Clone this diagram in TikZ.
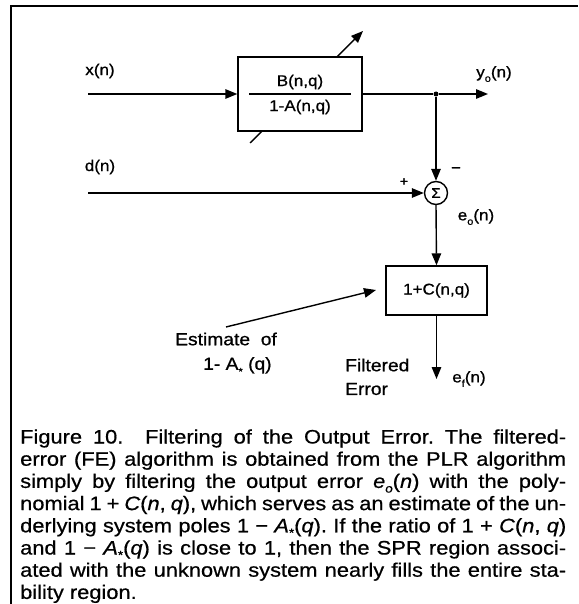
\documentclass[tikz,border=0pt]{standalone}
\usepackage{fontspec}
\setmainfont{Liberation Sans}
\newfontfamily\lblfam{Liberation Sans}[FakeStretch=1.1,FakeBold=0.8]
\newfontfamily\capfam{Liberation Sans}[FakeStretch=1.12,FakeBold=0.6]
\usetikzlibrary{arrows.meta,calc}
\newcommand\lsub[1]{\raisebox{-0.55ex}{\fontsize{10}{10}\selectfont #1}}
\newcommand\csub[1]{\raisebox{-0.45ex}{\fontsize{12}{12}\selectfont #1}}
\newlength\capw
\setlength\capw{546pt}
\frenchspacing
\begin{document}
\begin{tikzpicture}[x=1pt,y=-1pt,
  conn/.style={line width=1.4pt,-{Triangle[length=12pt,width=9.5pt]}},
  plain/.style={line width=1.4pt},
  blk/.style={draw,line width=1.4pt,fill=white,inner sep=0pt},
  lbl/.style={font=\lblfam\fontsize{15.5}{17}\selectfont,inner sep=0pt},
  lblbig/.style={font=\lblfam\fontsize{17.5}{19}\selectfont,inner sep=0pt,anchor=west},
  capline/.style={font=\capfam\fontsize{19.5}{22}\selectfont,anchor=base west,inner sep=0pt}
]
\useasboundingbox (0,0) rectangle (578,604);
\draw[line width=1.8pt] (11,604) -- (11,6) -- (578,6);

% adaptive filter with adjustment arrow
\coordinate (adL) at (250,143);
\coordinate (adH) at (363,31);
\draw[conn] (adL) -- (adH);
\node[blk,minimum width=124pt,minimum height=74pt] (filt) at (300,94) {};
\draw[plain] ($(filt.west)+(12,0)$) -- ($(filt.east)+(-12,0)$);
\node[lbl] (num) at (300,82) {B(n,q)};
\node[lbl] (den) at (300,107) {1-A(n,q)};

% input x(n)
\coordinate (xin) at (88,94);
\draw[conn] (xin) -- (filt.west);
\node[lbl] (xlab) at (100,71) {x(n)};

% output y_o(n)
\node[fill,circle,inner sep=0pt,minimum size=5pt] (dot) at (436,94) {};
\coordinate (yout) at (488,94);
\draw[plain] (filt.east) -- (dot);
\draw[conn] (dot) -- (yout);
\node[lbl] (ylab) at (494,74) {y\lsub{o}(n)};

% summing junction
\node[draw,circle,line width=1.4pt,minimum size=23pt,inner sep=0pt] (sum) at (436,193) {\lblfam\fontsize{14}{14}\selectfont Σ};
\draw[conn] (dot) -- (sum.north);
\node[lbl] (minus) at (456,170) {−};
\coordinate (din) at (88,193);
\draw[conn] (din) -- (sum.west);
\node[lbl] (dlab) at (100,167) {d(n)};
\node[font=\lblfam\fontsize{13}{13}\selectfont,inner sep=0pt] (plus) at (404,182) {+};

% error filter
\node[blk,minimum width=101pt,minimum height=49pt,font=\lblfam\fontsize{15.5}{17}\selectfont] (cf) at (436.5,290.5) {1+C(n,q)};
\draw[conn] (sum.south) -- (cf.north);
\node[lbl] (eo) at (476,217) {e\lsub{o}(n)};

\coordinate (est) at (226,327);
\coordinate (esttip) at (376,290);
\draw[conn] (est) -- (esttip);
\node[lblbig] (est1) at (175,339) {Estimate\ \ of};
\node[lblbig] (est2) at (203,366) {1- A\lsub{*} (q)};

\coordinate (efout) at (436.5,379);
\draw[conn] (cf.south) -- (efout);
\node[lblbig] (filt1) at (345,365) {Filtered};
\node[lblbig] (filt2) at (345,389) {Error};
\node[lbl] (ef) at (469,379) {e\lsub{f}(n)};

% caption
\node[capline] (c1) at (20,443.5) {\makebox[\capw][s]{Figure 10.\ \ Filtering of the Output Error. The filtered-}};
\node[capline] (c2) at (20,465.7) {\makebox[\capw][s]{error (FE) algorithm is obtained from the PLR algorithm}};
\node[capline] (c3) at (20,487.9) {\makebox[\capw][s]{simply by filtering the output error \textit{e}\csub{\textit{o}}(\textit{n}) with the poly-}};
\node[capline] (c4) at (20,510.1) {\makebox[\capw][s]{nomial 1 + \textit{C}(\textit{n}, \textit{q}), which serves as an estimate of the un-}};
\node[capline] (c5) at (20,532.3) {\makebox[\capw][s]{derlying system poles 1 − \textit{A}\csub{*}(\textit{q}). If the ratio of 1 + \textit{C}(\textit{n}, \textit{q})}};
\node[capline] (c6) at (20,554.5) {\makebox[\capw][s]{and 1 − \textit{A}\csub{*}(\textit{q}) is close to 1, then the SPR region associ-}};
\node[capline] (c7) at (20,576.7) {\makebox[\capw][s]{ated with the unknown system nearly fills the entire sta-}};
\node[capline] (c8) at (20,598.9) {bility region.};
\end{tikzpicture}
\end{document}
